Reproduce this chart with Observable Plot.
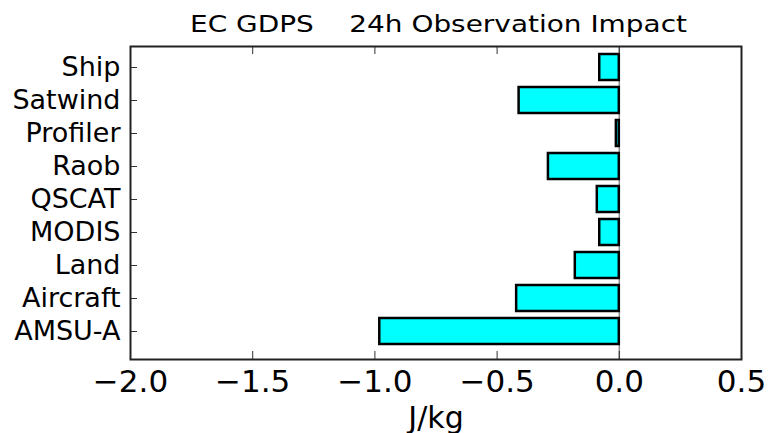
<!DOCTYPE html>
<html>
<head>
<meta charset="utf-8">
<script src="https://cdn.jsdelivr.net/npm/d3@7"></script>
<script src="https://cdn.jsdelivr.net/npm/@observablehq/plot@0.6"></script>
<style>
  html, body { margin: 0; padding: 0; background: #fff; }
  #chart { width: 769px; height: 433px; }
</style>
</head>
<body>
<div id="chart"></div>
<script>
const titleText = "EC GDPS    24h Observation Impact";
const xLabel = "J/kg";
const categories = ["Ship", "Satwind", "Profiler", "Raob", "QSCAT", "MODIS", "Land", "Aircraft", "AMSU-A"];
const impacts = [-0.08, -0.41, -0.012, -0.29, -0.09, -0.08, -0.18, -0.42, -0.98];
const xTicks = [-2.0, -1.5, -1.0, -0.5, 0.0, 0.5];

const data = categories.map((name, i) => ({name, value: impacts[i]}));

const W = 769, H = 433;
const mL = 130, mR = 28, mT = 46, mB = 74;
const frameW = W - mL - mR, frameH = H - mT - mB;

const plot = Plot.plot({
  width: W,
  height: H,
  marginLeft: mL,
  marginRight: mR,
  marginTop: mT,
  marginBottom: mB,
  style: {fontFamily: "DejaVu Sans", color: "#000", background: "#fff", overflow: "visible"},
  x: {domain: [-2, 0.5], ticks: xTicks, tickFormat: d3.format(".1f")},
  y: {domain: categories, paddingInner: 0.2, paddingOuter: 0.33, align: 0.37},
  marks: [
    Plot.ruleX([0], {stroke: "#888", strokeWidth: 1.5}),
    Plot.barX(data, {x: "value", y: "name", fill: "#00ffff", stroke: "#000", strokeWidth: 2.5}),
    Plot.tickX(xTicks, {x: d => d, stroke: "#333", strokeWidth: 1, insetBottom: frameH - 8}),
    Plot.tickX(xTicks, {x: d => d, stroke: "#333", strokeWidth: 1, insetTop: frameH - 8}),
    Plot.tickY(categories, {y: d => d, stroke: "#333", strokeWidth: 1, insetRight: frameW - 7}),
    Plot.frame({stroke: "#222", strokeWidth: 2}),
    Plot.axisX({ticks: xTicks, tickFormat: d3.format(".1f"), tickSize: 0, tickPadding: 10, fontSize: 31, label: null}),
    Plot.axisY({tickSize: 0, tickPadding: 10, fontSize: 27, label: null}),
    Plot.text([xLabel], {frameAnchor: "bottom", dy: 68, lineAnchor: "bottom", fontSize: 30}),
    Plot.text([titleText], {frameAnchor: "top", dy: -15, dx: 2.5, lineAnchor: "bottom", fontSize: 23.5, className: "chart-title"})
  ]
});

const t = plot.querySelector(".chart-title text");
if (t) {
  t.style.whiteSpace = "pre";
  t.setAttribute("xml:space", "preserve");
  t.setAttribute("textLength", 497);
  t.setAttribute("lengthAdjust", "spacingAndGlyphs");
}
document.getElementById("chart").appendChild(plot);
</script>
</body>
</html>
